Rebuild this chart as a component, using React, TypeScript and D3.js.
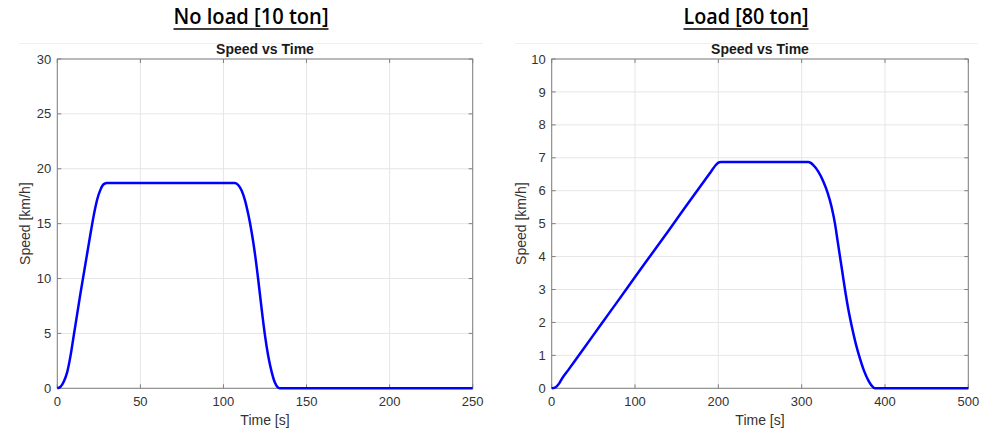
import React from "react";
import * as d3 from "d3";

// ---- Data ----
const noLoadTime = [0, 2, 4, 6, 8, 10, 12, 14, 16, 18, 20, 22, 24, 26, 28, 30, 107, 109, 111, 113, 115, 117, 119, 121, 123, 125, 127, 129, 131, 133, 134, 250];
const noLoadSpeed = [0, 0.15, 0.65, 1.5, 3.0, 4.9, 6.8, 8.7, 10.5, 12.3, 14.1, 15.8, 17.2, 18.1, 18.6, 18.7, 18.7, 18.5, 18.0, 17.1, 15.8, 14.2, 12.2, 9.8, 7.2, 4.8, 2.9, 1.5, 0.5, 0.05, 0, 0];

const loadTime = [0, 3, 6, 9, 12, 20, 40, 60, 80, 100, 120, 140, 160, 180, 190, 194, 197, 200, 203, 308, 314, 320, 326, 331, 336, 340, 343, 346, 349, 352, 356, 360, 365, 370, 375, 380, 384, 388, 500];
const loadSpeed = [0, 0.015, 0.06, 0.15, 0.28, 0.56, 1.26, 1.97, 2.67, 3.38, 4.08, 4.78, 5.49, 6.19, 6.54, 6.68, 6.78, 6.85, 6.87, 6.87, 6.78, 6.58, 6.28, 5.95, 5.5, 5.0, 4.5, 4.0, 3.5, 3.0, 2.4, 1.9, 1.35, 0.9, 0.52, 0.24, 0.08, 0, 0];

const noLoadXTicks = [0, 50, 100, 150, 200, 250];
const noLoadYTicks = [0, 5, 10, 15, 20, 25, 30];
const loadXTicks = [0, 100, 200, 300, 400, 500];
const loadYTicks = [0, 1, 2, 3, 4, 5, 6, 7, 8, 9, 10];

const mainTitles = ["No load [10 ton]", "Load [80 ton]"];
const subTitle = "Speed vs Time";
const xLabel = "Time [s]";
const yLabel = "Speed [km/h]";

const FONT = "'Liberation Sans', Arial, Helvetica, sans-serif";

type PanelProps = {
  left: number;
  right: number;
  top: number;
  bottom: number;
  xDomain: [number, number];
  yDomain: [number, number];
  xTicks: number[];
  yTicks: number[];
  times: number[];
  speeds: number[];
  title: string;
  titleX: number;
  titleW: number;
  figLeft: number;
  figRight: number;
  yLabelX: number;
};

function Panel(p: PanelProps) {
  const x = d3.scaleLinear().domain(p.xDomain).range([p.left, p.right]);
  const y = d3.scaleLinear().domain(p.yDomain).range([p.bottom, p.top]);
  const pts = p.times.map((t, i) => [t, p.speeds[i]] as [number, number]);
  const line = d3
    .line<[number, number]>()
    .x((d) => x(d[0]))
    .y((d) => y(d[1]))
    .curve(d3.curveMonotoneX);
  const axisColor = "#808080";
  const gridColor = "#e6e6e6";
  const textColor = "#333333";
  const tickLen = 4;
  const cx = (p.left + p.right) / 2;
  const cy = (p.top + p.bottom) / 2;
  return (
    <g>
      {/* figure top border */}
      <line x1={p.figLeft} x2={p.figRight} y1={43.5} y2={43.5} stroke="#f0f0f0" strokeWidth={1} />
      {/* main title */}
      <text
        x={p.titleX}
        y={24}
        textAnchor="middle"
        fontFamily="'Open Sans', 'Noto Sans', sans-serif"
        fontWeight={600}
        fontSize={21}
        fill="#000"
        textLength={p.titleW}
        lengthAdjust="spacingAndGlyphs"
      >
        {p.title}
      </text>
      <line x1={p.titleX - p.titleW / 2} x2={p.titleX + p.titleW / 2} y1={29} y2={29} stroke="#000" strokeWidth={1.5} />
      {/* sub title */}
      <text x={cx} y={54} textAnchor="middle" fontFamily={FONT} fontWeight={700} fontSize={14} fill="#1a1a1a">
        {subTitle}
      </text>
      {/* grid */}
      {p.xTicks.map((t) => (
        <line key={"gx" + t} x1={x(t)} x2={x(t)} y1={p.top} y2={p.bottom} stroke={gridColor} strokeWidth={1} />
      ))}
      {p.yTicks.map((t) => (
        <line key={"gy" + t} x1={p.left} x2={p.right} y1={y(t)} y2={y(t)} stroke={gridColor} strokeWidth={1} />
      ))}
      {/* box */}
      <rect x={p.left} y={p.top} width={p.right - p.left} height={p.bottom - p.top} fill="none" stroke={axisColor} strokeWidth={1} />
      {/* ticks */}
      {p.xTicks.map((t) => (
        <g key={"tx" + t}>
          <line x1={x(t)} x2={x(t)} y1={p.bottom} y2={p.bottom - tickLen} stroke={axisColor} />
          <line x1={x(t)} x2={x(t)} y1={p.top} y2={p.top + tickLen} stroke={axisColor} />
          <text x={x(t)} y={p.bottom + 18} textAnchor="middle" fontFamily={FONT} fontSize={13} fill={textColor}>
            {t}
          </text>
        </g>
      ))}
      {p.yTicks.map((t) => (
        <g key={"ty" + t}>
          <line x1={p.left} x2={p.left + tickLen} y1={y(t)} y2={y(t)} stroke={axisColor} />
          <line x1={p.right} x2={p.right - tickLen} y1={y(t)} y2={y(t)} stroke={axisColor} />
          <text x={p.left - 6} y={y(t) + 4.6} textAnchor="end" fontFamily={FONT} fontSize={13} fill={textColor}>
            {t}
          </text>
        </g>
      ))}
      {/* axis labels */}
      <text x={cx} y={425} textAnchor="middle" fontFamily={FONT} fontSize={14} fill={textColor}>
        {xLabel}
      </text>
      <text
        transform={`translate(${p.yLabelX},${cy}) rotate(-90)`}
        textAnchor="middle"
        fontFamily={FONT}
        fontSize={14}
        fill={textColor}
      >
        {yLabel}
      </text>
      {/* series */}
      <path d={line(pts) || ""} fill="none" stroke="#0000ff" strokeWidth={2.5} strokeLinejoin="round" />
    </g>
  );
}

export default function App() {
  return (
    <svg
      width={994}
      height={430}
      viewBox="0 0 994 430"
      style={{ position: "absolute", left: 0, top: 0, background: "#fff" }}
    >
      <rect x={0} y={0} width={994} height={430} fill="#fff" />
      <Panel
        left={57.3}
        right={472.7}
        top={59}
        bottom={388.3}
        xDomain={[0, 250]}
        yDomain={[0, 30]}
        xTicks={noLoadXTicks}
        yTicks={noLoadYTicks}
        times={noLoadTime}
        speeds={noLoadSpeed}
        title={mainTitles[0]}
        titleX={251}
        titleW={155}
        figLeft={19}
        figRight={483}
        yLabelX={30}
      />
      <Panel
        left={551.7}
        right={968.3}
        top={59}
        bottom={388.3}
        xDomain={[0, 500]}
        yDomain={[0, 10]}
        xTicks={loadXTicks}
        yTicks={loadYTicks}
        times={loadTime}
        speeds={loadSpeed}
        title={mainTitles[1]}
        titleX={746}
        titleW={125}
        figLeft={515}
        figRight={978}
        yLabelX={526}
      />
    </svg>
  );
}
